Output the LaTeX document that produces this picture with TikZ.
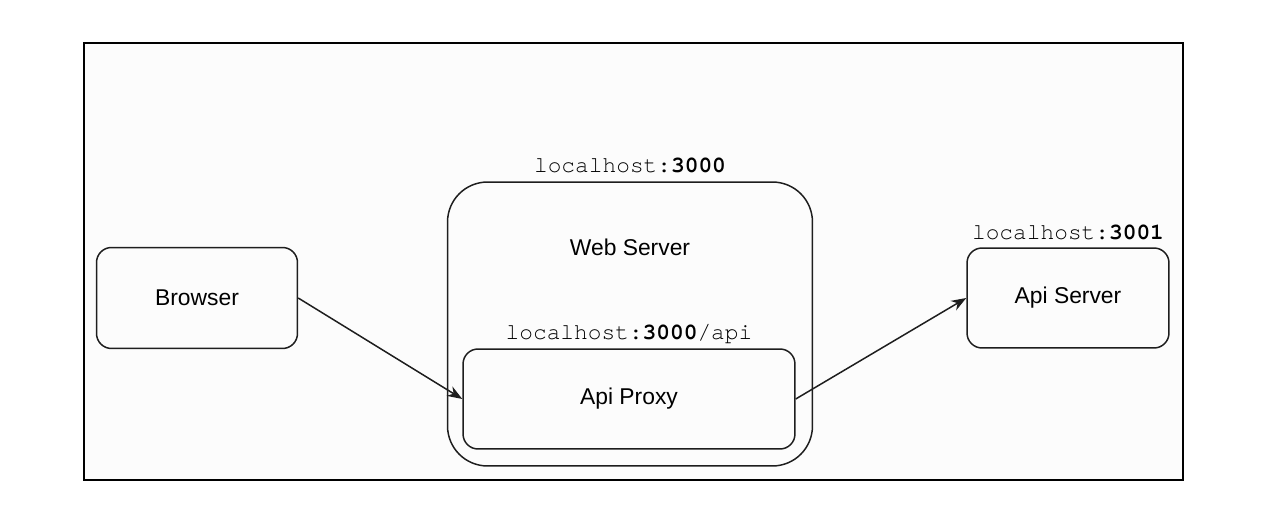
\documentclass[tikz,border=0pt]{standalone}
\usepackage{fontspec}
\setmainfont{Liberation Sans}
\setmonofont{texgyrecursor-regular.otf}[BoldFont=texgyrecursor-bold.otf]
\usetikzlibrary{arrows.meta, positioning, calc}
\definecolor{Ink}{HTML}{1E1E1E}
\definecolor{Paper}{HTML}{FCFCFC}

\begin{document}
\begin{tikzpicture}[
    x=0.02cm, y=-0.02cm,
    box/.style={
        draw=Ink, line width=0.85pt, rounded corners=0.3cm,
        align=center, font=\fontsize{13}{15}\selectfont
    },
    server/.style={
        draw=Ink, line width=0.85pt, rounded corners=0.8cm
    },
    port/.style={font=\ttfamily\fontsize{13}{15}\selectfont, inner sep=0pt, anchor=base},
    arr/.style={-{Stealth[length=3mm, width=2.2mm]}, line width=0.85pt, draw=Ink},
    every node/.style={font=\fontsize{13}{15}\selectfont}
]

% =============================================
% Canvas and frame
% =============================================
\fill[white] (0,0) rectangle (1276,520);
\draw[line width=0.6pt, fill=Paper] (84,43) rectangle (1183,480);

% =============================================
% Web server with proxy inside
% =============================================
\node[server, minimum width=7.3cm, minimum height=5.68cm] (web) at (630,324) {};
\node (webtxt) at ([yshift=-1.32cm]web.north) {Web Server};
\node[port] (webport) at ([yshift=0.18cm]web.north) {localhost:\textbf{3000}};

\node[box, minimum width=6.64cm, minimum height=2.0cm] (proxy) at (629,399) {Api Proxy};
\node[port] (proxyport) at ([yshift=0.18cm]proxy.north) {localhost:\textbf{3000}/api};

% =============================================
% Browser and Api server
% =============================================
\node[box, minimum width=4.02cm, minimum height=2.02cm] (browser) at (197,298) {Browser};

\node[box, minimum width=4.04cm, minimum height=2.0cm] (api) at (1068,298) {Api Server};
\node[port] (apiport) at ([yshift=0.16cm]api.north) {localhost:\textbf{3001}};

% =============================================
% Requests
% =============================================
\draw[arr] (browser.east) -- (proxy.west);
\draw[arr] (proxy.east) -- (api.west);

\end{tikzpicture}
\end{document}
